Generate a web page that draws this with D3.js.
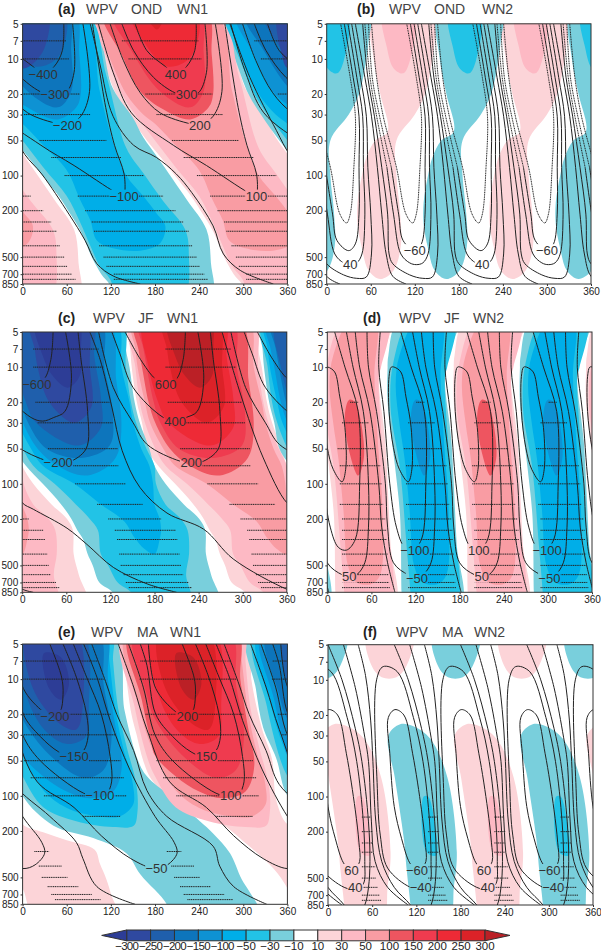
<!DOCTYPE html>
<html><head><meta charset="utf-8">
<script src="https://cdn.jsdelivr.net/npm/d3@7/dist/d3.min.js"></script>
<style>html,body{margin:0;padding:0;background:#fff}svg{display:block}text{font-family:"Liberation Sans",Arial,sans-serif}</style>
</head><body><svg id="c" width="601" height="952"></svg>
<script>
// ---------- shared values ----------
const lonTicks=[0,60,120,180,240,300,360];
const pTicks=[5,7,10,20,30,50,100,200,500,700,850];
const barLevels=[-300,-250,-200,-150,-100,-50,-30,-10,10,30,50,100,150,200,250,300];
const levels=[10,30,50,100,150,200,250,300];

// ---------- (a) WPV OND WN1 : [level, sign(0 both,1 pos,-1 neg), [lon,hPa]...] ----------
const aFills=[
[10,0,[[90,4],[100,7],[109,10],[127,20],[144,30],[169,50],[188,70],[207,100],[229,150],[242,200],[259,300],[274,500],[287,700],[298,850],[305,1100],[436,1100],[436,560],[430,290],[403,160],[365,72],[344,47],[330,32],[303,18],[266,4]]],
[30,0,[[96,4],[105,7],[115,10],[135,20],[153,30],[180,50],[208,85],[240,150],[258,250],[272,400],[285,600],[299,775],[310,1100],[398,1100],[406,470],[401,290],[371,165],[344,95],[321,58],[294,14],[266,4]]],
[50,0,[[100,4],[110,7],[119,10],[141,20],[164,30],[180,36],[208,55],[240,90],[258,160],[272,240],[281,360],[303,420],[340,440],[367,380],[374,270],[362,210],[344,150],[321,100],[303,52],[285,19],[261,4]]],
[100,0,[[110,4],[135,9.3],[160,19],[191,27],[228,33],[253,26],[259,20],[257,9],[250,4]]],
[150,0,[[122,4],[148,8.5],[187,19],[228,26],[246,19],[246,8.5],[241,4]]],
[200,0,[[147,4],[164,7],[196,11.6],[228,9.7],[237,4]]],
[250,1,[[167,4],[183,5.6],[192,4]]],
[250,-1,[[-12,4],[-8,9],[0,12],[14,11],[30,8],[34,4]]]
];
const aLines=[
[[153,5],[169,8.5],[194,11.6],[208,13.5],[223,11.6],[234,8.5],[236,5]],
[[135,5],[151,8.5],[178,14.4],[207,19.5],[223,20.5],[239,19.5],[250,13],[248,5]],
[[119,5],[137,10.3],[160,19.5],[187,29],[228,36],[241,37],[259,31],[271,19],[262,5]],
[[103,5],[123,13],[148,29],[205,55],[250,82],[307,140],[318,150],[319,140],[318,97],[305,55],[293,26],[275,5]]
];
const aZero=[
[[92,5],[105,11],[123,31],[151,55],[182,70],[209,97],[230,140],[259,270],[273,470],[296,650],[341,850]],
[[282,5],[309,14.4],[345,41],[363,66],[386,97],[423,214],[445,360],[461,570],[484,730],[520,850]]
];
const aRows=[[7,135,239],[10,144,243],[20,167,258],[30,182,272],[50,203,294],[70,219,314],[100,237,345],[150,255,371],[200,265,388],[250,274,399],[300,277,406],[400,284,411],[500,290,417],[600,294,421],[700,304,427],[775,304,432]];
const aLabels=[["−400",28,13.5],["400",208,13.5],["−300",44,20.3],["300",223,20.3],["−200",61,37],["200",241,37],["−100",138,150],["100",318,150]];

// ---------- (b) WPV OND WN2 ----------
const bFills=[
[10,0,[[63,4],[64,10],[73,20],[83,42],[66,50],[54,70],[48,100],[42,170],[42,260],[48,420],[57,650],[73,770],[91,650],[101,400],[100,210],[95,100],[95,50],[120,30],[134,20],[143,11],[147,7],[148,4]]],
[30,0,[[77,4],[82,8],[91,12],[104,13.3],[113,10.5],[118,4]]]
];
const bDotted=[
[[-29,5],[-22,14.4],[-13,31],[5,85],[18,214],[27,255],[32,214],[37,85],[39,31],[32,14.4],[19,5]],
[[-33,5],[-28,14.4],[-18,31],[-2,85]],
[[-38,5],[-31,14.4],[-22,31],[-8,85]]
];
const bLines=[
[[-2,85],[8,214],[14,360],[30,440],[39,385],[44,214],[44,85],[44,31],[36,14.4],[24,5]],
[[-8,85],[1,214],[11,470],[23,560],[32,580],[41,560],[48,470],[52,214],[50,85],[49,31],[41,14.4],[29,5]],
[[-41,5],[-34,14.4],[-25,31],[-15,85],[-7,214],[-5,470],[0,570],[23,710],[41,760],[54,740],[61,470],[60,214],[56,85],[54,31],[46,14.4],[34,5]],
[[39,5],[52,14.4],[61,31],[69,85],[75,214],[81,470],[90,730],[108,850]]
];
const bRows=[];
const bLabels=[["40",32,580],["40",212,580],["−60",120,440],["−60",300,440]];

// ---------- (c) WPV JF WN1 ----------
const cFills=[
[10,0,[[144,4],[147,7],[149,10],[156,20],[163,30],[170,50],[185,70],[208,100],[233,150],[247,200],[255,250],[263,300],[269,400],[276,500],[285,700],[303,850],[308,1100],[448,1100],[437,600],[430,400],[429,250],[421,200],[400,150],[375,100],[360,70],[353,50],[340,30],[333,20],[326,10],[321,7],[318,4]]],
[30,0,[[148,4],[154,10],[160,20],[167,30],[181,50],[195,70],[224,100],[253,150],[272,200],[283,250],[287,400],[297,500],[310,700],[328,850],[332,1100],[410,1100],[403,600],[407,400],[405,250],[396,200],[375,150],[362,100],[360,70],[349,50],[335,30],[328,20],[321,10],[314,4]]],
[50,0,[[150,4],[154,7],[157,10],[167,20],[174,30],[192,50],[208,70],[251,100],[287,150],[319,210],[333,290],[346,360],[360,400],[367,300],[369,250],[367,200],[360,150],[358,100],[353,70],[342,50],[331,30],[326,20],[315,10],[307,4]]],
[100,0,[[153,4],[158,7],[163,10],[172,20],[181,30],[201,50],[228,70],[265,85],[295,72],[310,55],[315,30],[308,13],[296,4]]],
[150,0,[[159,4],[165,7],[179,20],[188,30],[213,50],[260,60],[299,47],[303,24],[292,10],[286,4]]],
[200,0,[[166,4],[172,10],[185,20],[199,30],[256,47],[287,33],[287,18],[278,8],[275,4]]],
[250,0,[[191,4],[197,7],[201,10],[217,20],[251,30],[274,22],[272,10],[266,4]]],
[300,0,[[198,4],[208,8],[222,12],[242,15],[258,12],[260,7],[256,4]]]
];
const cLines=[
[[140,5],[161,8.6],[181,12.6],[195,14],[210,12.6],[219,8.6],[222,5]],
[[122,5],[133,7.7],[151,15],[192,27],[208,29],[223,27],[238,24],[247,12.6],[239,5]],
[[104,5],[124,15],[151,30],[170,46],[215,64],[230,66],[244,65],[267,50],[269,24],[260,8.6],[256,5]]
];
const cZero=[
[[92,5],[106,8.6],[122,22],[136,52],[160,107],[197,178],[247,245],[287,440],[360,800],[375,850]],
[[272,5],[297,17],[328,60],[360,145],[375,165],[421,240],[448,330],[484,520],[530,720],[570,850]]
];
const cRows=[[7,195,284],[10,195,291],[20,198,299],[30,201,303],[50,215,310],[70,220,311],[100,252,321],[150,282,344],[200,297,369],[250,306,389],[300,309,391],[400,312,394],[500,314,396],[600,318,399],[700,321,406],[775,325,411]];
const cLabels=[["−600",20,14],["600",195,14],["400",208,29],["−200",49,65],["200",230,65]];

// ---------- (d) WPV JF WN2 ----------
const dFills=[
[10,0,[[7,4],[-7,8],[-8,10],[-8,20],[2,70],[9,190],[11,850],[12,1100],[91,1100],[86,330],[79,45],[70,10],[86,4]]],
[30,0,[[23,4],[0,9],[-4,22],[9,75],[18,350],[23,850],[24,1100],[84,1100],[82,215],[75,50],[70,12],[73,10],[82,4]]],
[50,0,[[31,4],[8,8],[3,14],[8,30],[15,60],[22,170],[28,500],[40,700],[60,720],[72,600],[75,170],[69,46],[64,12],[65,4]]],
[100,0,[[30,19],[24,25],[29,50],[42,85],[50,58],[44,26],[38,20]]]
];
const dOvals=[[[1,10],[10,11],[17,18],[24,33],[25,75],[20,96],[8,75],[0,49],[-6,24],[-6,12],[-3,10]]];
const dLines=[
[[-18,5],[-20,10],[-13,24],[-5,100],[4,235],[15,350],[26,370],[38,300],[44,100],[42,24],[24,10],[10,5]],
[[-36,5],[-34,10],[-23,24],[-11,100],[-8,235],[0,475],[20,600],[30,620],[40,600],[51,475],[56,235],[56,100],[49,24],[35,10],[26,5]],
[[38,5],[44,10],[58,24],[70,100],[74,235],[82,475],[92,850]]
];
const dRows=[[20,31,42],[30,20,56],[50,14,66],[70,17,72],[100,17,74],[150,17,76],[200,20,79],[250,20,80],[300,20,81],[400,20,82],[500,20,82],[600,20,83],[700,20,84],[775,20,85]];
const dLabels=[["50",30,620],["50",210,620],["−50",122,640],["−50",302,640],["−100",119,370],["100",206,370],["−100",299,370]];

// ---------- (e) WPV MA WN1 ----------
const eFills=[
[10,1,[[128,4],[137,7],[141,10],[148,20],[155,30],[164,50],[175,72],[205,110],[232,140],[268,170],[305,260],[341,420],[360,620],[377,1100],[490,1100],[481,720],[474,520],[465,380],[458,290],[420,240],[388,205],[360,175],[345,110],[339,48],[325,26],[311,10],[306,4]]],
[10,-1,[[-53,4],[-43,12],[-33,26],[-15,48],[0,100],[42,180],[96,230],[141,310],[160,470],[196,850],[200,1100],[322,1100],[296,490],[282,310],[259,210],[241,165],[200,100],[169,68],[157,50],[139,19],[121,4]]],
[30,0,[[136,4],[152,17],[170,48],[180,68],[208,125],[253,165],[303,185],[331,180],[336,140],[335,83],[321,37],[310,18],[303,7],[300,4]]],
[50,0,[[141,4],[158,17],[180,45],[212,95],[244,130],[285,150],[312,150],[330,120],[330,80],[316,37],[306,18],[298,7],[293,4]]],
[100,0,[[145,4],[162,15],[175,35],[180,45],[208,68],[240,92],[272,105],[303,92],[315,55],[306,25],[296,10],[291,4]]],
[150,0,[[152,4],[168,13],[180,22],[217,45],[263,70],[290,60],[301,31],[290,11],[282,4]]],
[200,0,[[176,4],[187,15],[214,29],[241,36],[266,31],[270,17],[261,4]]],
[250,0,[[186,4],[194,12],[230,24],[253,27],[262,16],[252,4]]],
[300,0,[[209,6],[216,12],[232,15],[243,11],[232,6.5]]]
];
const eLines=[
[[130,5],[151,11.7],[169,27],[200,76],[250,126],[287,220],[327,345],[360,420],[377,390],[390,310],[386,250],[360,150],[326,60],[299,22.5],[281,9.6],[263,5]],
[[144,5],[164,11.7],[180,30],[204,50],[263,95],[284,102],[294,97],[301,76],[299,46],[287,20],[267,9.6],[249,5]],
[[160,5],[169,7.6],[181,20],[204,31],[229,42],[250,47],[263,41],[269,31],[267,20],[253,9.6],[235,5]],
[[171,5],[181,12],[208,19],[221,21],[231,19],[235,13.5],[233,9.6],[217,5]]
];
const eZero=[
[[94,5],[114,11],[128,20],[151,41],[169,90],[196,150],[259,270],[268,400],[287,600],[332,850]],
[[274,5],[294,11],[308,20],[331,41],[349,80],[397,150],[433,250],[442,345],[461,600],[513,850]]
];
const eRows=[[7,160,282],[10,159,291],[20,167,300],[30,172,306],[50,182,313],[70,191,318],[100,209,321],[150,262,313],[300,196,216],[400,202,233],[500,206,241],[600,214,256],[700,219,274],[775,224,286]];
const eLabels=[["−200",44,20.8],["200",224,20.8],["−150",70,46],["150",250,46],["−100",105,100],["100",283,100],["−50",182,420]];

// ---------- (f) WPV MA WN2 ----------
const fFills=[
[10,0,[[8,24],[-8,30],[1,70],[13,230],[17,430],[22,850],[23,1100],[74,1100],[81,590],[85,300],[72,68],[49,32],[26,25]]],
[10,0,[[53,4],[59,7.5],[73,9.5],[93,9.5],[107,7.5],[115,4]]],
[30,0,[[40,100],[44,300],[57,320],[55,170],[46,100]]]
];
const fOvals=[
[[-8,21],[1,18],[13,20],[25,43],[37,130],[42,246],[43,360],[37,410],[30,425],[21,370],[10,230],[0,122],[-6,43]],
[[-24,10],[-15,7.7],[4,8.5],[26,21],[39,50],[48,165],[50,360],[48,560],[37,620],[22,600],[-9,410],[-19,214],[-23,85]]
];
const fLines=[
[[-49,5],[-39,9.2],[-32,22.5],[-29,50],[-25,165],[-17,360],[0,600],[22,850],[36,1200],[50,850],[55,600],[57,360],[55,165],[46,50],[37,26],[19,10],[0,5]],
[[21,5],[37,11.6],[50,31],[55,50],[59,165],[64,360],[81,600],[109,850]]
];
const fRows=[[150,46,58],[200,46,61],[250,46,61],[300,46,61],[400,46,64],[500,46,65],[600,46,68],[700,46,70],[775,46,72]];
const fLabels=[["60",32,430],["60",212,430],["40",37,600],["40",217,600],["−60",121,430],["−60",301,430],["−40",126,600],["−40",306,600]];

// ---------- layout and styling (not data) ----------
const posColor=['#fcd4d8','#fdb9c4','#f99ca3','#ee5560','#ef3b4f','#ee2a36','#dc2228','#bb2026'];
const negColor=['#79cfdc','#22c3e6','#00aee8','#0e92d3','#0d75bc','#1f5fac','#2f49a0','#2d3d96'];
const panels=[
 {id:'a',box:[22.6,287.4,23.8,284],period:360,fills:aFills,lines:aLines,once:aZero,dotted:[],ovals:[],rows:aRows,labels:aLabels,tag:'(a)',tagX:58,base:14,words:[['WPV',86],['OND',131],['WN1',177]]},
 {id:'b',box:[326.7,591,23.8,284],period:180,fills:bFills,lines:bLines,once:[],dotted:bDotted,ovals:[],rows:bRows,labels:bLabels,tag:'(b)',tagX:357,base:14,words:[['WPV',389],['OND',434],['WN2',482]]},
 {id:'c',box:[22.2,286.8,332,592.3],period:360,fills:cFills,lines:cLines,once:cZero,dotted:[],ovals:[],rows:cRows,labels:cLabels,tag:'(c)',tagX:58,base:323,words:[['WPV',93],['JF',138],['WN1',167]]},
 {id:'d',box:[327.3,592,332,592.3],period:180,fills:dFills,lines:dLines,once:[],dotted:[],ovals:dOvals,rows:dRows,labels:dLabels,tag:'(d)',tagX:363,base:323,words:[['WPV',399],['JF',444],['WN2',473]]},
 {id:'e',box:[22.6,287.4,644,904.3],period:360,fills:eFills,lines:eLines,once:eZero,dotted:[],ovals:[],rows:eRows,labels:eLabels,tag:'(e)',tagX:58,base:637,words:[['WPV',91],['MA',137],['WN1',170]]},
 {id:'f',box:[328,593,644.7,905],period:180,fills:fFills,lines:fLines,once:[],dotted:[],ovals:fOvals,rows:fRows,labels:fLabels,tag:'(f)',tagX:363,base:637,words:[['WPV',396],['MA',442],['WN2',474]]}
];

const svg=d3.select('#c');
const defs=svg.append('defs');
panels.forEach(P=>{
  const [x0,x1,y0,y1]=P.box;
  const x=d3.scaleLinear().domain([0,360]).range([x0,x1]);
  const y=d3.scaleLog().domain([5,850]).range([y0,y1]);
  const half=P.period/2;
  const shifts=d3.range(-3,5).map(k=>k*P.period);
  const lineOpen=d3.line().x(d=>x(d[0])).y(d=>y(d[1])).curve(d3.curveCatmullRom.alpha(0.5));
  const lineClosed=d3.line().x(d=>x(d[0])).y(d=>y(d[1])).curve(d3.curveCatmullRomClosed.alpha(0.5));
  const move=(pts,s)=>pts.map(d=>[d[0]+s,d[1]]);

  defs.append('clipPath').attr('id','clip'+P.id).append('rect').attr('x',x0).attr('y',y0).attr('width',x1-x0).attr('height',y1-y0);
  const mask=defs.append('mask').attr('id','mask'+P.id).attr('maskUnits','userSpaceOnUse')
     .attr('x',0).attr('y',0).attr('width',601).attr('height',952);
  mask.append('rect').attr('width',601).attr('height',952).attr('fill','#fff');
  P.labels.forEach(l=>{const w=l[0].length*7.2+1;
     mask.append('rect').attr('x',x(l[1])-w/2).attr('y',y(l[2])-6.5).attr('width',w).attr('height',13).attr('fill','#000');});

  const g=svg.append('g').attr('clip-path',`url(#clip${P.id})`);
  g.append('rect').attr('x',x0).attr('y',y0).attr('width',x1-x0).attr('height',y1-y0).attr('fill','#fff');
  P.fills.forEach(f=>{
    const i=levels.indexOf(f[0]);
    shifts.forEach(s=>{
      if(f[1]>=0) g.append('path').attr('d',lineClosed(move(f[2],s))).attr('fill',posColor[i]);
      if(f[1]===0) g.append('path').attr('d',lineClosed(move(f[2],s-half))).attr('fill',negColor[i]);
      if(f[1]===-1) g.append('path').attr('d',lineClosed(move(f[2],s))).attr('fill',negColor[i]);
    });
  });
  const over=g.append('g').attr('mask',`url(#mask${P.id})`);
  // stippling
  shifts.forEach(s=>[0,-half].forEach(h=>{
    P.rows.forEach(r=>over.append('line')
      .attr('x1',x(r[1]+s+h)).attr('x2',x(r[2]+s+h)).attr('y1',y(r[0])).attr('y2',y(r[0]))
      .attr('stroke','#222').attr('stroke-width',1).attr('stroke-dasharray','1.2 0.6'));
  }));
  const draw=(pts,gen,dash)=>over.append('path').attr('d',gen(pts)).attr('fill','none')
      .attr('stroke','#222').attr('stroke-width',1).attr('stroke-dasharray',dash?'1.1 0.6':null);
  shifts.forEach(s=>[0,-half].forEach(h=>{
    P.lines.forEach(l=>draw(move(l,s+h),lineOpen,false));
    P.dotted.forEach(l=>draw(move(l,s+h),lineOpen,true));
    P.ovals.forEach(l=>draw(move(l,s+h),lineClosed,false));
  }));
  shifts.forEach(s=>P.once.forEach(l=>draw(move(l,s),lineOpen,false)));

  // contour labels
  P.labels.forEach(l=>svg.append('text').attr('x',x(l[1])).attr('y',y(l[2])+4.6).attr('text-anchor','middle')
      .attr('font-size',13).attr('fill','#333').text(l[0]));
  // frame and axes
  svg.append('rect').attr('x',x0).attr('y',y0).attr('width',x1-x0).attr('height',y1-y0).attr('fill','none').attr('stroke','#333').attr('stroke-width',1);
  const ax=svg.append('g').attr('transform',`translate(0,${y1})`).call(d3.axisBottom(x).tickValues(lonTicks).tickSize(2).tickSizeOuter(0).tickFormat(d3.format('d')));
  const ay=svg.append('g').attr('transform',`translate(${x0},0)`).call(d3.axisLeft(y).tickValues(pTicks).tickSize(2).tickSizeOuter(0).tickFormat(d3.format('d')));
  [ax,ay].forEach(a=>{a.select('.domain').remove();a.selectAll('line').attr('stroke','#333');
    a.selectAll('text').attr('font-size',10).attr('font-family','"Liberation Sans",Arial,sans-serif').attr('fill','#222');});
  ax.selectAll('text').attr('y',4);
  ay.selectAll('text').attr('x',-4);
  // title
  svg.append('text').attr('x',P.tagX).attr('y',P.base).attr('font-size',14).attr('font-weight','bold').attr('fill','#222').text(P.tag);
  P.words.forEach(w=>svg.append('text').attr('x',w[1]).attr('y',P.base).attr('font-size',14).attr('fill','#444').text(w[0]));
});

// colour bar
const barX=d3.scaleLinear().domain([0,barLevels.length-1]).range([126.7,485]);
const barTop=930,barBot=940.8,barMid=(barTop+barBot)/2;
const barColors=negColor.slice().reverse().slice(1).concat(['#fff'],posColor.slice(0,7));
const bar=svg.append('g');
bar.selectAll('rect').data(barLevels.slice(0,-1)).join('rect')
  .attr('x',(d,i)=>barX(i)).attr('y',barTop).attr('width',(d,i)=>barX(i+1)-barX(i)).attr('height',barBot-barTop)
  .attr('fill',(d,i)=>barColors[i]).attr('stroke','#333').attr('stroke-width',1);
bar.append('path').attr('d',`M${barX(0)},${barTop}L101.7,${barMid}L${barX(0)},${barBot}Z`).attr('fill',negColor[7]).attr('stroke','#333');
bar.append('path').attr('d',`M${barX(15)},${barTop}L510,${barMid}L${barX(15)},${barBot}Z`).attr('fill',posColor[7]).attr('stroke','#333');
bar.selectAll('text').data(barLevels).join('text').attr('x',(d,i)=>barX(i)).attr('y',949.5)
  .attr('text-anchor','middle').attr('font-size',11.5).attr('letter-spacing',d=>d<-50?-0.7:0).attr('fill','#222').text(d=>d<0?'−'+(-d):d);
</script></body></html>
